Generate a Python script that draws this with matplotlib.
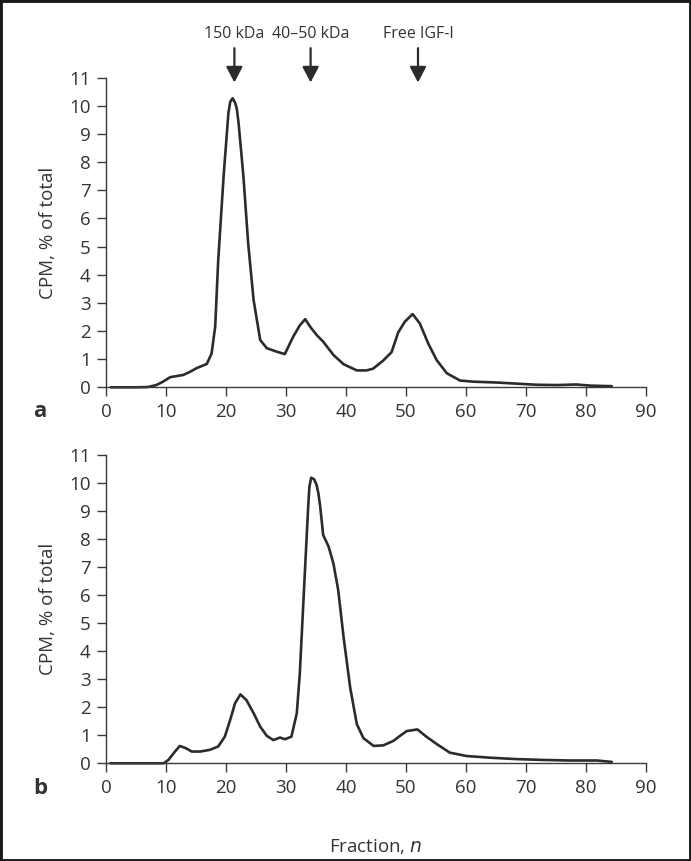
import matplotlib
matplotlib.use("Agg")
import matplotlib.pyplot as plt
from matplotlib.patches import Rectangle

plt.rcParams['font.family'] = ['Open Sans', 'DejaVu Sans']

# panel a: fraction vs CPM (% of total)
frac_a = [0.8, 3, 5, 7, 8.4, 9.5, 10.7, 11.8, 12.9, 14, 15.1, 16.8, 17.6, 18.2, 18.7,
          19.6, 20.4, 20.7, 21.1, 21.5, 21.8, 22.1, 22.9, 23.7, 24.6, 25.7, 26.8, 28.4,
          29.8, 31.2, 32.3, 33.2, 34, 35.1, 36.2, 37.9, 39.6, 41.8, 43.4, 44.5, 46.2,
          47.6, 48.7, 49.8, 51.1, 52.3, 53.7, 55.1, 56.8, 59, 61.2, 65.1, 68.4, 71.8,
          75.1, 78.4, 80.7, 84.3]
cpm_a = [0, 0, 0, 0.01, 0.08, 0.2, 0.36, 0.4, 0.44, 0.55, 0.68, 0.83, 1.2, 2.16, 4.5,
         7.5, 9.74, 10.14, 10.27, 10.12, 9.9, 9.38, 7.5, 5.1, 3.1, 1.68, 1.39, 1.27,
         1.18, 1.8, 2.2, 2.42, 2.16, 1.86, 1.62, 1.15, 0.82, 0.6, 0.6, 0.66, 0.95,
         1.25, 1.95, 2.33, 2.6, 2.27, 1.56, 0.97, 0.5, 0.24, 0.2, 0.17, 0.13, 0.09,
         0.08, 0.1, 0.06, 0.04]

# panel b
frac_b = [0.7, 5, 9.6, 10.4, 11.5, 12.3, 13.3, 14.3, 15.7, 17.3, 18.7, 19.8, 20.7, 21.5,
          22.4, 23.4, 24.6, 25.7, 26.8, 27.9, 29, 29.8, 30.9, 31.8, 32.3, 33, 33.7, 33.9,
          34.2, 34.7, 35.1, 35.4, 35.7, 36.2, 37.1, 37.9, 38.7, 39.6, 40.7, 41.8, 42.9,
          44.6, 46.2, 47.9, 49, 50.1, 51.9, 53.4, 55.1, 57.3, 60.1, 64, 68.4, 72.9,
          77.3, 81.8, 84.3]
cpm_b = [0, 0, 0, 0.12, 0.42, 0.62, 0.54, 0.42, 0.42, 0.48, 0.6, 0.95, 1.55, 2.14,
         2.46, 2.26, 1.79, 1.31, 0.98, 0.83, 0.92, 0.86, 0.95, 1.79, 3.2, 6.2, 9.17, 9.88,
         10.2, 10.14, 9.94, 9.64, 9.17, 8.15, 7.74, 7.14, 6.19, 4.5, 2.7, 1.4, 0.9,
         0.62, 0.64, 0.8, 0.98, 1.15, 1.21, 0.95, 0.69, 0.38, 0.26, 0.2, 0.15, 0.12,
         0.1, 0.1, 0.05]

marker_labels = ['150 kDa', '40\u201350 kDa', 'Free IGF-I']
marker_pos = [21.4, 34.1, 52.0]

xticks = list(range(0, 91, 10))
yticks = list(range(0, 12))

W, H = 691, 861
fig = plt.figure(figsize=(W / 100, H / 100), dpi=100)

ax_a = fig.add_axes([106 / W, 1 - 387.3 / H, 540 / W, 309.6 / H])
ax_b = fig.add_axes([106 / W, 1 - 763.3 / H, 540 / W, 308 / H])

axis_col = '#3a3a3a'
for ax, fr, cp in [(ax_a, frac_a, cpm_a), (ax_b, frac_b, cpm_b)]:
    ax.plot(fr, cp, color='#2b2b2b', lw=1.9, solid_capstyle='round',
            solid_joinstyle='round', clip_on=False)
    ax.set_xlim(0, 90)
    ax.set_ylim(0, 11)
    ax.set_xticks(xticks)
    ax.set_yticks(yticks)
    for s in ['top', 'right']:
        ax.spines[s].set_visible(False)
    for s in ['left', 'bottom']:
        ax.spines[s].set_color(axis_col)
        ax.spines[s].set_linewidth(1.0)
    ax.tick_params(direction='out', length=6.5, width=1.0, color=axis_col,
                   labelsize=13.5, labelcolor='#333333', pad=4.5)
    ax.set_ylabel('CPM, % of total', fontsize=13.5, color='#333333', labelpad=9)

ax_b.set_xlabel('Fraction, $\\it{n}$', fontsize=13.5, color='#333333', labelpad=29)

fig.text(40 / W, 1 - 411 / H, 'a', fontsize=16, fontweight='bold', color='#333333',
         ha='center', va='center')
fig.text(40 / W, 1 - 789 / H, 'b', fontsize=16, fontweight='bold', color='#333333',
         ha='center', va='center')

# arrows marking elution positions
for lab, xp in zip(marker_labels, marker_pos):
    ax_a.annotate('', xy=(xp, 10.83), xytext=(xp, 12.05), annotation_clip=False,
                  arrowprops=dict(arrowstyle='-|>,head_length=0.95,head_width=0.5',
                                  color='#2b2b2b', lw=1.6, shrinkA=0, shrinkB=0))
    ax_a.text(xp, 12.55, lab, ha='center', va='center', fontsize=11.5,
              color='#333333', clip_on=False)

# dark frame round the figure
fig.patches.append(Rectangle((0, 0), 1, 1, transform=fig.transFigure, fill=False,
                             edgecolor='#1a1a1a', lw=3.5))

fig.savefig('out.png', dpi=100)
